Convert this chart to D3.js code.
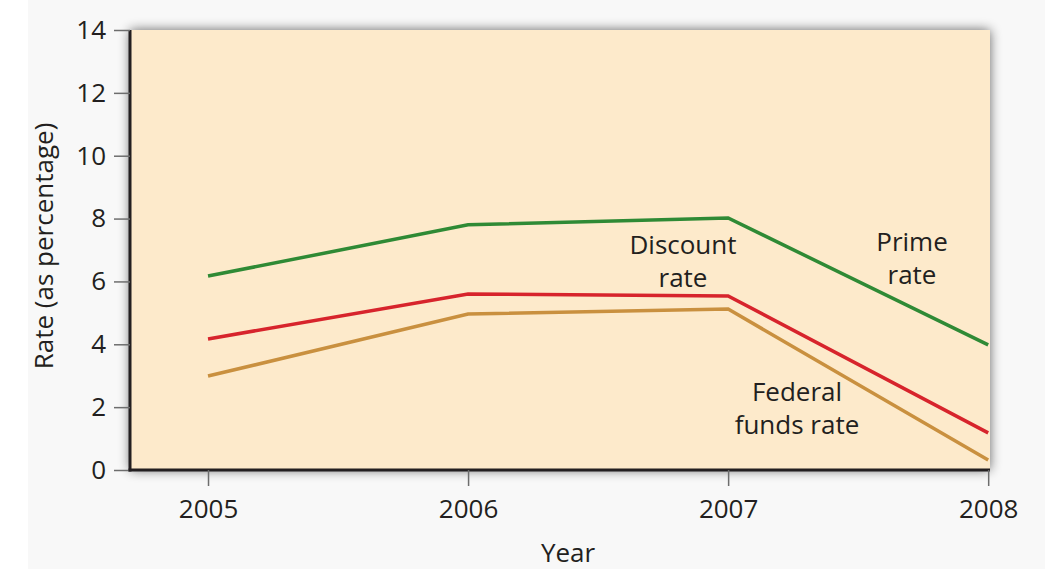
<!DOCTYPE html>
<html>
<head>
<meta charset="utf-8">
<script src="https://cdnjs.cloudflare.com/ajax/libs/d3/7.8.5/d3.min.js"></script>
<style>
  body { margin: 0; background: #ffffff; }
  svg text { font-family: "Open Sans", sans-serif; fill: #231f20; }
</style>
</head>
<body>
<div id="chart"></div>
<script>
// values
var years = [2005, 2006, 2007, 2008];
var primeRate = [6.17, 7.8, 8.02, 3.98];
var discountRate = [4.17, 5.6, 5.54, 1.18];
var fedFundsRate = [2.99, 4.96, 5.12, 0.32];
var yTicks = [0, 2, 4, 6, 8, 10, 12, 14];

var series = [
  {name: "Prime", values: primeRate, color: "#2f8a35"},
  {name: "Discount", values: discountRate, color: "#d7242c"},
  {name: "Fed", values: fedFundsRate, color: "#c9903f"}
];

var W = 1045, H = 569;
var plotL = 130, plotR = 990, plotT = 30, plotB = 470;
var fs = 26;

var svg = d3.select("#chart").append("svg")
    .attr("width", W)
    .attr("height", H);

svg.append("rect")
    .attr("x", 28).attr("y", 0)
    .attr("width", W - 28).attr("height", H)
    .attr("fill", "#f8f8f8");

var defs = svg.append("defs");
var f = defs.append("filter").attr("id", "shadow")
    .attr("x", "-5%").attr("y", "-10%").attr("width", "110%").attr("height", "120%");
f.append("feGaussianBlur").attr("in", "SourceAlpha").attr("stdDeviation", 6).attr("result", "b");
f.append("feComponentTransfer").attr("in", "b").attr("result", "s")
  .append("feFuncA").attr("type", "linear").attr("slope", 0.6);
var m = f.append("feMerge");
m.append("feMergeNode").attr("in", "s");
m.append("feMergeNode").attr("in", "SourceGraphic");

var x = d3.scaleLinear().domain([2004.7, 2008.007]).range([plotL, plotR]);
var y = d3.scaleLinear().domain([0, 14]).range([plotB, plotT]);

// plot background
svg.append("rect")
    .attr("x", plotL).attr("y", plotT)
    .attr("width", plotR - plotL).attr("height", plotB - plotT)
    .attr("fill", "#fdeacb")
    .attr("filter", "url(#shadow)");

// y axis
var yAxis = svg.append("g")
    .attr("transform", "translate(" + plotL + ",0)")
    .call(d3.axisLeft(y).tickValues(yTicks).tickSize(16).tickPadding(8));
yAxis.select(".domain").attr("stroke", "#231f20").attr("stroke-width", 3).attr("d", "M0," + plotT + "V" + (plotB + 1.5));
yAxis.selectAll(".tick line").attr("stroke", "#6d6d6d").attr("stroke-width", 1.5);
yAxis.selectAll(".tick text").attr("font-size", fs).attr("font-family", "Open Sans").attr("fill", "#231f20");

// x axis
var xAxis = svg.append("g")
    .attr("transform", "translate(0," + plotB + ")")
    .call(d3.axisBottom(x).tickValues(years).tickFormat(d3.format("d")).tickSize(16).tickPadding(14));
xAxis.select(".domain").attr("stroke", "#231f20").attr("stroke-width", 3).attr("d", "M" + (plotL - 1.5) + ",0H" + plotR);
xAxis.selectAll(".tick line").attr("stroke", "#6d6d6d").attr("stroke-width", 1.5);
xAxis.selectAll(".tick text").attr("font-size", fs).attr("font-family", "Open Sans").attr("fill", "#231f20");

// lines
var line = d3.line()
    .x(function(d, i) { return x(years[i]); })
    .y(function(d) { return y(d); });

svg.selectAll(".rate")
  .data(series)
  .enter()
  .append("path")
    .attr("class", "rate")
    .attr("d", function(d) { return line(d.values); })
    .attr("fill", "none")
    .attr("stroke", function(d) { return d.color; })
    .attr("stroke-width", 3.5);

// labels
var labels = [
  {lines: ["Discount", "rate"], x: 683, y: 254},
  {lines: ["Prime", "rate"], x: 912, y: 251},
  {lines: ["Federal", "funds rate"], x: 797, y: 401}
];
labels.forEach(function(l) {
  var t = svg.append("text")
      .attr("text-anchor", "middle")
      .attr("font-size", fs);
  l.lines.forEach(function(s, i) {
    t.append("tspan").attr("x", l.x).attr("y", l.y + i * 33).text(s);
  });
});

svg.append("text")
    .attr("x", 568).attr("y", 562)
    .attr("text-anchor", "middle")
    .attr("font-size", fs)
    .text("Year");

svg.append("text")
    .attr("transform", "translate(53,246) rotate(-90)")
    .attr("text-anchor", "middle")
    .attr("font-size", fs)
    .text("Rate (as percentage)");
</script>
</body>
</html>
